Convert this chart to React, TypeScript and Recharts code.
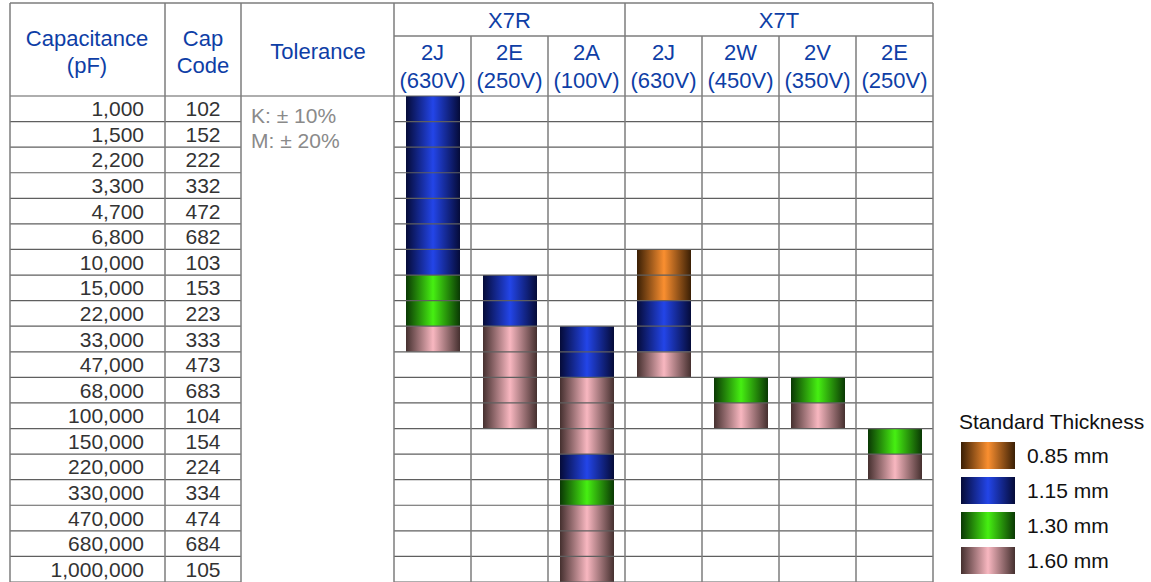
import { Bar, BarChart, Cell, XAxis, YAxis } from 'recharts';

const capacitance = [
  '1,000', '1,500', '2,200', '3,300', '4,700', '6,800', '10,000', '15,000', '22,000', '33,000',
  '47,000', '68,000', '100,000', '150,000', '220,000', '330,000', '470,000', '680,000', '1,000,000',
];
const capCodes = [
  '102', '152', '222', '332', '472', '682', '103', '153', '223', '333',
  '473', '683', '104', '154', '224', '334', '474', '684', '105',
];
const dielectrics = ['X7R', 'X7R', 'X7R', 'X7T', 'X7T', 'X7T', 'X7T'];
const voltCodes = ['2J', '2E', '2A', '2J', '2W', '2V', '2E'];
const voltages = ['630V', '250V', '100V', '630V', '450V', '350V', '250V'];
const tolerances = ['K: ± 10%', 'M: ± 20%'];

const thicknessKeys = ['0.85', '1.15', '1.30', '1.60'];
const thicknessLabels = ['0.85 mm', '1.15 mm', '1.30 mm', '1.60 mm'];

// first row of each column, then the thickness and row count of each stacked segment
const startRows = [0, 7, 9, 6, 11, 11, 13];
const segThickness = [
  ['1.15', '1.30', '1.60'],
  ['1.15', '1.60'],
  ['1.15', '1.60', '1.15', '1.30', '1.60'],
  ['0.85', '1.15', '1.60'],
  ['1.30', '1.60'],
  ['1.30', '1.60'],
  ['1.30', '1.60'],
];
const segRows = [
  [7, 2, 1],
  [2, 4],
  [2, 3, 1, 1, 3],
  [2, 2, 1],
  [1, 1],
  [1, 1],
  [1, 1],
];

const gradColors: Record<string, [string, string]> = {
  '0.85': ['#3a1f05', '#fa8f30'],
  '1.15': ['#050b38', '#2345e8'],
  '1.30': ['#0a3804', '#46ef12'],
  '1.60': ['#45302f', '#f8b7c0'],
};

const W = 1151;
const H = 582;
const LEFT = 10;
const PLOT_L = 394;
const PLOT_R = 933;
const TOP = 3;
const PLOT_T = 96;
const ROWS = capacitance.length;
const ROW_H = (H - PLOT_T) / ROWS;
const COL_W = (PLOT_R - PLOT_L) / voltCodes.length;
const BLUE = '#0e3ea6';
const FONT = '"Liberation Sans", Arial, sans-serif';
const HEAD_SIZE = 22;
const MAX_SEG = Math.max(...segRows.map((s) => s.length));

const data = voltCodes.map((code, i) => {
  const row: Record<string, number | string> = { col: `${i}`, offset: startRows[i] };
  segRows[i].forEach((n, k) => {
    row[`s${k}`] = n;
  });
  return row;
});

const gradId = (t: string) => `grad-${t.replace('.', '')}`;

function HeaderTick(props: any) {
  const { x, y, payload } = props;
  const i = Number(payload.value);
  const groupStart = i === 0 || dielectrics[i] !== dielectrics[i - 1];
  let groupLabel = null;
  if (groupStart) {
    const span = dielectrics.filter((d) => d === dielectrics[i]).length;
    groupLabel = (
      <text x={x + ((span - 1) * COL_W) / 2} y={y - 76} textAnchor="middle" dominantBaseline="central" fill={BLUE} fontSize={HEAD_SIZE} fontFamily={FONT}>
        {dielectrics[i]}
      </text>
    );
  }
  return (
    <g>
      {groupLabel}
      <text x={x} y={y - 44} textAnchor="middle" dominantBaseline="central" fill={BLUE} fontSize={HEAD_SIZE} fontFamily={FONT}>
        {voltCodes[i]}
      </text>
      <text x={x} y={y - 16} textAnchor="middle" dominantBaseline="central" fill={BLUE} fontSize={HEAD_SIZE} fontFamily={FONT}>
        ({voltages[i]})
      </text>
    </g>
  );
}

function RowTick(props: any) {
  const { x, y, payload } = props;
  const i = Math.floor(payload.value);
  return (
    <g>
      <text x={x - 250} y={y} textAnchor="end" dominantBaseline="central" fill="#333" fontSize={21} fontFamily={FONT}>
        {capacitance[i]}
      </text>
      <text x={x - 191} y={y} textAnchor="middle" dominantBaseline="central" fill="#333" fontSize={21} fontFamily={FONT}>
        {capCodes[i]}
      </text>
    </g>
  );
}

function ThicknessLegend() {
  return (
    <div style={{ position: 'absolute', left: 959, top: 409, width: 192, fontFamily: FONT, color: '#111' }}>
      <div style={{ fontSize: 21, lineHeight: '26px', marginBottom: 3 }}>Standard Thickness</div>
      {thicknessKeys.map((t, i) => (
        <div key={t} style={{ display: 'flex', alignItems: 'center', height: 35 }}>
          <svg width={54} height={27} style={{ marginLeft: 2, display: 'block' }}>
            <rect width={54} height={27} fill={`url(#${gradId(t)})`} />
          </svg>
          <span style={{ fontSize: 21, marginLeft: 12 }}>{thicknessLabels[i]}</span>
        </div>
      ))}
    </div>
  );
}

function TableFrame() {
  const line = '#5f5f5f';
  const vline = '#7d7d7d';
  const hLines = Array.from({ length: ROWS + 1 }, (_, i) => PLOT_T + i * ROW_H);
  const colLines = voltCodes.map((_, i) => PLOT_L + (i + 1) * COL_W);
  return (
    <svg width={W} height={H} style={{ position: 'absolute', left: 0, top: 0, pointerEvents: 'none' }}>
      <line x1={LEFT} x2={PLOT_R} y1={TOP} y2={TOP} stroke={vline} strokeWidth={1.5} />
      <line x1={PLOT_L} x2={PLOT_R} y1={36} y2={36} stroke={vline} strokeWidth={1.5} />
      {hLines.map((y, i) => (
        <g key={i}>
          <line x1={LEFT} x2={i === 0 ? PLOT_R : 241} y1={y} y2={y} stroke={line} strokeWidth={1.2} />
          {i > 0 && <line x1={PLOT_L} x2={PLOT_R} y1={y} y2={y} stroke={line} strokeWidth={1.2} />}
        </g>
      ))}
      {[LEFT, 165, 241, PLOT_L].map((x) => (
        <line key={x} x1={x} x2={x} y1={TOP} y2={H} stroke={vline} strokeWidth={1.5} />
      ))}
      {colLines.map((x, i) => (
        <line
          key={i}
          x1={x}
          x2={x}
          y1={i === voltCodes.length - 1 || dielectrics[i] !== dielectrics[i + 1] ? TOP : 36}
          y2={H}
          stroke={vline}
          strokeWidth={1.5}
        />
      ))}
    </svg>
  );
}

export default function App() {
  return (
    <div style={{ position: 'absolute', left: 0, top: 0, width: W, height: H, background: '#fff', overflow: 'hidden' }}>
      <BarChart width={W} height={H} data={data} margin={{ top: TOP, right: W - PLOT_R, bottom: 0, left: LEFT }} barSize={54}>
        <defs>
          {thicknessKeys.map((t) => (
            <linearGradient key={t} id={gradId(t)} x1="0" y1="0" x2="1" y2="0">
              <stop offset="0%" stopColor={gradColors[t][0]} />
              <stop offset="50%" stopColor={gradColors[t][1]} />
              <stop offset="100%" stopColor={gradColors[t][0]} />
            </linearGradient>
          ))}
        </defs>
        <XAxis dataKey="col" orientation="top" height={PLOT_T - TOP} axisLine={false} tickLine={false} tickSize={0} tickMargin={0} tick={<HeaderTick />} interval={0} />
        <YAxis
          type="number"
          domain={[0, ROWS]}
          reversed
          width={PLOT_L - LEFT}
          ticks={capacitance.map((_, i) => i + 0.5)}
          axisLine={false}
          tickLine={false}
          tickSize={0}
          tickMargin={0}
          tick={<RowTick />}
          interval={0}
        />
        <Bar dataKey="offset" stackId="a" fill="transparent" isAnimationActive={false} legendType="none" />
        {Array.from({ length: MAX_SEG }, (_, k) => (
          <Bar key={k} dataKey={`s${k}`} stackId="a" isAnimationActive={false} legendType="none">
            {data.map((_, i) => (
              <Cell key={i} fill={segThickness[i][k] ? `url(#${gradId(segThickness[i][k])})` : 'transparent'} />
            ))}
          </Bar>
        ))}
      </BarChart>
      <TableFrame />
      <ThicknessLegend />
      <svg width={W} height={H} style={{ position: 'absolute', left: 0, top: 0, pointerEvents: 'none' }}>
        <text x={87} y={38} textAnchor="middle" dominantBaseline="central" fill={BLUE} fontSize={HEAD_SIZE} fontFamily={FONT}>Capacitance</text>
        <text x={87} y={65} textAnchor="middle" dominantBaseline="central" fill={BLUE} fontSize={HEAD_SIZE} fontFamily={FONT}>(pF)</text>
        <text x={203} y={38} textAnchor="middle" dominantBaseline="central" fill={BLUE} fontSize={HEAD_SIZE} fontFamily={FONT}>Cap</text>
        <text x={203} y={65} textAnchor="middle" dominantBaseline="central" fill={BLUE} fontSize={HEAD_SIZE} fontFamily={FONT}>Code</text>
        <text x={318} y={51} textAnchor="middle" dominantBaseline="central" fill={BLUE} fontSize={HEAD_SIZE} fontFamily={FONT}>Tolerance</text>
        {tolerances.map((t, i) => (
          <text key={t} x={251} y={115 + i * 25} dominantBaseline="central" fill="#8a8a8a" fontSize={21} fontFamily={FONT}>{t}</text>
        ))}
      </svg>
    </div>
  );
}
